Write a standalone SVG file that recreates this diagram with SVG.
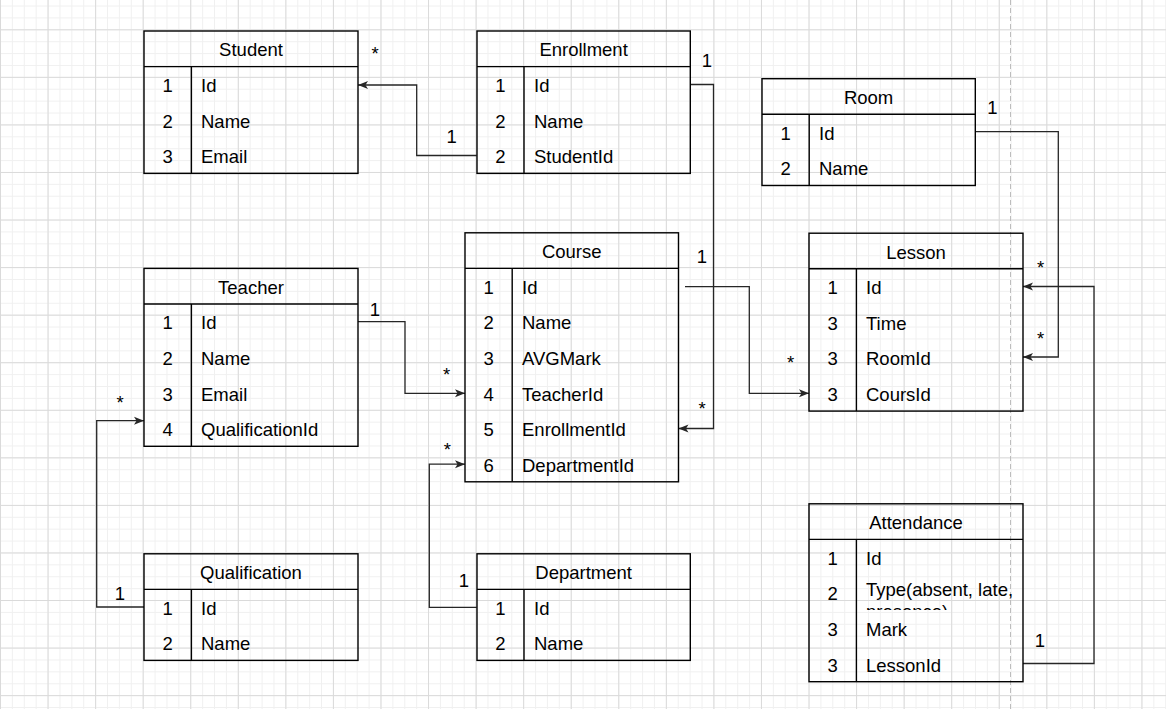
<svg xmlns="http://www.w3.org/2000/svg" width="1166" height="709" viewBox="0 0 1166 709">
<style>
.tb{fill:none;stroke:#000;stroke-width:1.4}
.ln{fill:none;stroke:#000;stroke-width:1.4}
.t{font-family:"Liberation Sans",Arial,Helvetica,sans-serif;font-size:18.5px;fill:#000}
.c{text-anchor:middle}
.e{fill:none;stroke:#262626;stroke-width:1.3}
</style>
<defs>
<pattern id="minor" patternUnits="userSpaceOnUse" x="0" y="5.52" width="11.89" height="11.89">
<path d="M0.5,0 V11.89 M0,0.5 H11.89" fill="none" stroke="#f0f0f0" stroke-width="1"/>
</pattern>
<pattern id="major" patternUnits="userSpaceOnUse" x="0" y="29.3" width="47.56" height="47.56">
<path d="M0.5,0 V47.56 M0,0.5 H47.56" fill="none" stroke="#dadada" stroke-width="1"/>
</pattern>
<marker id="arr" markerUnits="userSpaceOnUse" markerWidth="11" markerHeight="9" refX="10" refY="4.5" orient="auto">
<path d="M0,0.5 L10,4.5 L0,8.5 L2.5,4.5 Z" fill="#262626"/>
</marker>
<clipPath id="clipType">
<rect x="856" y="575" width="166" height="35"/>
</clipPath>
</defs>
<rect width="1166" height="709" fill="#fff"/>
<rect width="1166" height="709" fill="url(#minor)"/>
<rect width="1166" height="709" fill="url(#major)"/>
<line x1="1010.5" y1="0" x2="1010.5" y2="709" stroke="#bdbdbd" stroke-width="1" stroke-dasharray="5 3"/>

<g id="connectors">
<path class="e" d="M476.7,155.5 H416.7 V85 H358" marker-end="url(#arr)"/>
<path class="e" d="M690.3,84.5 H713.5 V428.5 H678.5" marker-end="url(#arr)"/>
<path class="e" d="M685,286.7 H749.3 V393.3 H809" marker-end="url(#arr)"/>
<path class="e" d="M358,321.7 H405 V393.3 H465" marker-end="url(#arr)"/>
<path class="e" d="M144,607 H96.7 V420.7 H144" marker-end="url(#arr)"/>
<path class="e" d="M476.7,607.3 H429.3 V464.2 H465" marker-end="url(#arr)"/>
<path class="e" d="M975.5,131.7 H1058.3 V357 H1023" marker-end="url(#arr)"/>
<path class="e" d="M1023,663.5 H1094 V286.5 H1023" marker-end="url(#arr)"/>
<g class="t c">
<text x="375" y="60">*</text>
<text x="451.7" y="143.2">1</text>
<text x="707" y="67.2">1</text>
<text x="702" y="415">*</text>
<text x="702" y="263.2">1</text>
<text x="790.7" y="368.5">*</text>
<text x="375" y="315.8">1</text>
<text x="446.7" y="381">*</text>
<text x="120" y="599.8">1</text>
<text x="120" y="409">*</text>
<text x="464" y="587.2">1</text>
<text x="447.3" y="456">*</text>
<text x="992.3" y="113.8">1</text>
<text x="1040.7" y="345">*</text>
<text x="1040" y="646.5">1</text>
<text x="1040.7" y="273.5">*</text>
</g>
</g>

<g id="student">
<rect class="tb" x="144" y="31" width="214" height="142.4"/>
<path class="ln" d="M144,66.6 H358 M191.4,66.6 V173.4"/>
<text class="t c" x="251" y="56.4">Student</text>
<text class="t c" x="167.7" y="92">1</text><text class="t" x="201" y="92">Id</text>
<text class="t c" x="167.7" y="127.6">2</text><text class="t" x="201" y="127.6">Name</text>
<text class="t c" x="167.7" y="163.2">3</text><text class="t" x="201" y="163.2">Email</text>
</g>

<g id="enrollment">
<rect class="tb" x="477" y="31" width="213.3" height="142.4"/>
<path class="ln" d="M477,66.6 H690.3 M524,66.6 V173.4"/>
<text class="t c" x="583.6" y="56.4">Enrollment</text>
<text class="t c" x="500.5" y="92">1</text><text class="t" x="534" y="92">Id</text>
<text class="t c" x="500.5" y="127.6">2</text><text class="t" x="534" y="127.6">Name</text>
<text class="t c" x="500.5" y="163.2">2</text><text class="t" x="534" y="163.2">StudentId</text>
</g>

<g id="room">
<rect class="tb" x="762" y="78.7" width="213.3" height="106.8"/>
<path class="ln" d="M762,114.3 H975.3 M809.2,114.3 V185.5"/>
<text class="t c" x="868.6" y="104.1">Room</text>
<text class="t c" x="785.6" y="139.7">1</text><text class="t" x="819" y="139.7">Id</text>
<text class="t c" x="785.6" y="175.3">2</text><text class="t" x="819" y="175.3">Name</text>
</g>

<g id="teacher">
<rect class="tb" x="144" y="268.4" width="214" height="177.9"/>
<path class="ln" d="M144,304 H358 M191.4,304 V446.3"/>
<text class="t c" x="251" y="293.8">Teacher</text>
<text class="t c" x="167.7" y="329.4">1</text><text class="t" x="201" y="329.4">Id</text>
<text class="t c" x="167.7" y="365">2</text><text class="t" x="201" y="365">Name</text>
<text class="t c" x="167.7" y="400.6">3</text><text class="t" x="201" y="400.6">Email</text>
<text class="t c" x="167.7" y="436.2">4</text><text class="t" x="201" y="436.2">QualificationId</text>
</g>

<g id="course">
<rect class="tb" x="465" y="232.8" width="213.5" height="249"/>
<path class="ln" d="M465,268.4 H678.5 M512.2,268.4 V481.8"/>
<text class="t c" x="571.7" y="258.2">Course</text>
<text class="t c" x="488.6" y="293.8">1</text><text class="t" x="522" y="293.8">Id</text>
<text class="t c" x="488.6" y="329.4">2</text><text class="t" x="522" y="329.4">Name</text>
<text class="t c" x="488.6" y="365">3</text><text class="t" x="522" y="365">AVGMark</text>
<text class="t c" x="488.6" y="400.6">4</text><text class="t" x="522" y="400.6">TeacherId</text>
<text class="t c" x="488.6" y="436.2">5</text><text class="t" x="522" y="436.2">EnrollmentId</text>
<text class="t c" x="488.6" y="471.8">6</text><text class="t" x="522" y="471.8">DepartmentId</text>
</g>

<g id="lesson">
<rect class="tb" x="809" y="233.2" width="214" height="177.9"/>
<path class="ln" d="M809,268.8 H1023 M856.4,268.8 V411.1"/>
<text class="t c" x="916" y="258.6">Lesson</text>
<text class="t c" x="832.7" y="294.2">1</text><text class="t" x="866" y="294.2">Id</text>
<text class="t c" x="832.7" y="329.8">3</text><text class="t" x="866" y="329.8">Time</text>
<text class="t c" x="832.7" y="365.4">3</text><text class="t" x="866" y="365.4">RoomId</text>
<text class="t c" x="832.7" y="401">3</text><text class="t" x="866" y="401">CoursId</text>
</g>

<g id="qualification">
<rect class="tb" x="144" y="553.8" width="214" height="106.6"/>
<path class="ln" d="M144,589.4 H358 M191.4,589.4 V660.4"/>
<text class="t c" x="251" y="579.2">Qualification</text>
<text class="t c" x="167.7" y="614.8">1</text><text class="t" x="201" y="614.8">Id</text>
<text class="t c" x="167.7" y="650.4">2</text><text class="t" x="201" y="650.4">Name</text>
</g>

<g id="department">
<rect class="tb" x="477" y="553.8" width="213.3" height="106.6"/>
<path class="ln" d="M477,589.4 H690.3 M524,589.4 V660.4"/>
<text class="t c" x="583.6" y="579.2">Department</text>
<text class="t c" x="500.5" y="614.8">1</text><text class="t" x="534" y="614.8">Id</text>
<text class="t c" x="500.5" y="650.4">2</text><text class="t" x="534" y="650.4">Name</text>
</g>

<g id="attendance">
<rect class="tb" x="809" y="503.8" width="214" height="177.9"/>
<path class="ln" d="M809,539.4 H1023 M856.4,539.4 V681.7"/>
<text class="t c" x="916" y="529.2">Attendance</text>
<text class="t c" x="832.7" y="564.8">1</text><text class="t" x="866" y="564.8">Id</text>
<text class="t c" x="832.7" y="600.4">2</text>
<g clip-path="url(#clipType)">
<text class="t" x="866" y="595.7">Type(absent, late,</text>
<text class="t" x="866" y="617.5">presence)</text>
</g>
<text class="t c" x="832.7" y="636">3</text><text class="t" x="866" y="636">Mark</text>
<text class="t c" x="832.7" y="671.6">3</text><text class="t" x="866" y="671.6">LessonId</text>
</g>
</svg>
